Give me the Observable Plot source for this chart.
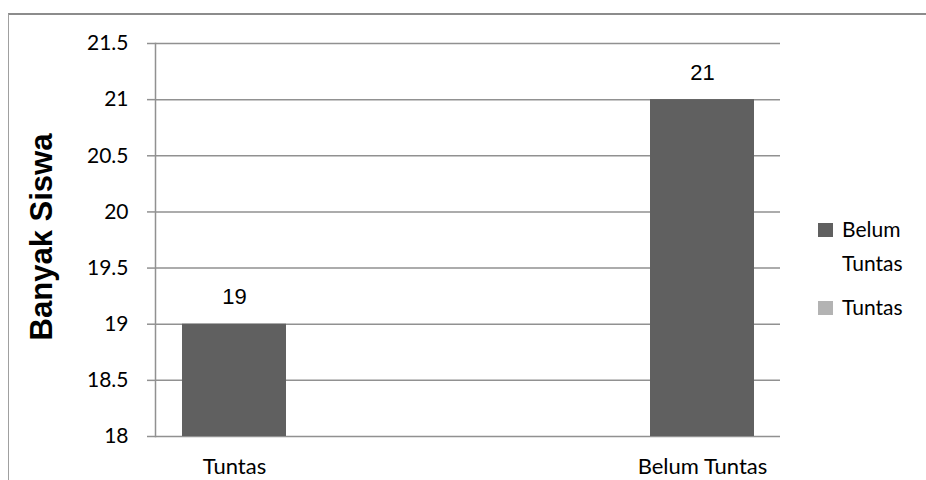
<!DOCTYPE html>
<html>
<head>
<meta charset="utf-8">
<script src="https://cdn.jsdelivr.net/npm/d3@7"></script>
<script src="https://cdn.jsdelivr.net/npm/@observablehq/plot@0.6"></script>
<style>
  html, body { margin: 0; padding: 0; background: #fff; overflow: hidden; }
  #wrap { position: relative; width: 926px; height: 480px; overflow: hidden; }
  #border { position: absolute; left: 8px; top: 13px; width: 1000px; height: 1000px;
            border-top: 2px solid #8c8c8c; border-left: 1.5px solid #a0a0a0; box-sizing: border-box; }
  #chart { position: absolute; left: 0; top: 0; }
  .lg-sw { position: absolute; left: 818px; width: 15px; height: 14px; }
  .lg-txt { position: absolute; left: 842px; width: 80px; font-family: Lato, sans-serif; font-size: 21px; line-height: 34px; color: #000; }
</style>
</head>
<body>
<div id="wrap">
  <div id="border"></div>
  <div id="chart"></div>
  <div id="legend"></div>
</div>
<script>
const categories = ["Tuntas", "Belum Tuntas"];
const values = [19, 21];
const yTicks = [18, 18.5, 19, 19.5, 20, 20.5, 21, 21.5];
const legendLabels = ["Belum Tuntas", "Tuntas"];
const legendColors = ["#606060", "#b3b3b3"];
const barColor = "#606060";

const data = categories.map((c, i) => ({cat: c, value: values[i]}));

const chart = Plot.plot({
  width: 926,
  height: 480,
  marginLeft: 155,
  marginRight: 146,
  marginTop: 43,
  marginBottom: 44,
  style: {background: "transparent", overflow: "visible"},
  x: {domain: categories, paddingInner: 0.778, paddingOuter: 0.0554, label: null},
  y: {domain: [yTicks[0], yTicks[yTicks.length - 1]], ticks: yTicks, label: null},
  marks: [
    Plot.ruleY(yTicks, {stroke: "#919191", strokeWidth: 1.5}),
    Plot.frame({anchor: "left", stroke: "#919191", strokeWidth: 1.5}),
    Plot.barY(data, {x: "cat", y1: yTicks[0], y2: "value", fill: barColor}),
    Plot.text(data, {x: "cat", y: "value", text: d => String(d.value), dy: -27,
      fontSize: 22, fontFamily: "Liberation Sans, Arial, sans-serif", fill: "#000"}),
    Plot.axisY({ticks: yTicks, tickSize: 8, tickPadding: 19, fontSize: 21,
      fontFamily: "Lato, sans-serif", stroke: "#919191", strokeWidth: 1.5, fill: "#000",
      tickFormat: d => String(d), label: null}),
    Plot.axisX({tickSize: 0, tickPadding: 22, fontSize: 22, fontFamily: "Lato, sans-serif", fill: "#000", label: null}),
    Plot.text(["Banyak Siswa"], {frameAnchor: "left", textAnchor: "middle", dx: -113, dy: -3, rotate: -90,
      fontSize: 31, fontWeight: "bold", fontFamily: "Liberation Sans, Arial, sans-serif", fill: "#000"})
  ]
});
document.getElementById("chart").appendChild(chart);

// legend
const legend = document.getElementById("legend");
const legendTops = [212, 290];
legendLabels.forEach((lab, i) => {
  const sw = document.createElement("div");
  sw.className = "lg-sw";
  sw.style.top = (legendTops[i] + 11) + "px";
  sw.style.background = legendColors[i];
  legend.appendChild(sw);
  const t = document.createElement("div");
  t.className = "lg-txt";
  t.style.top = legendTops[i] + "px";
  t.textContent = lab;
  legend.appendChild(t);
});
</script>
</body>
</html>
